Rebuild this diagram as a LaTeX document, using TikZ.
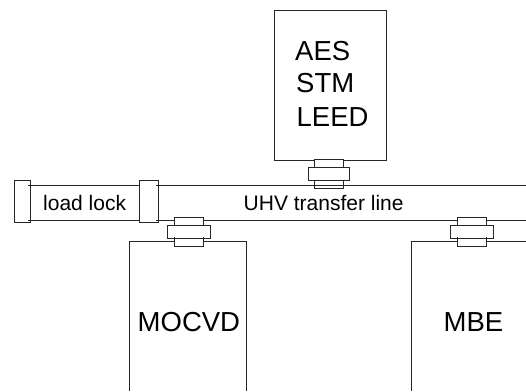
\documentclass[tikz,border=0pt]{standalone}
\usepackage{fontspec}
\setmainfont{Liberation Sans}
\tikzset{
  part/.style={draw=black!85,line width=0.8pt,fill=white},
  wall/.style={draw=black!85,line width=0.8pt},
  biglabel/.style={inner sep=0pt,font=\fontsize{27.5}{34}\selectfont},
  smalllabel/.style={inner sep=0pt,font=\fontsize{21}{25}\selectfont},
}
\newcommand{\flangeset}[3]{% centre x, centre y, wide half-width
  \draw[part] (#1-14.7,#2-14.5) rectangle (#1+14.7,#2+14.5);
  \draw[part] (#1-#3,#2-6.6) rectangle (#1+#3,#2+6.6);
}
\newcommand{\flangeticks}[2]{%
  \draw[wall] (#1-14.7,#2+6.6) -- ++(0,-2) (#1+14.7,#2+6.6) -- ++(0,-2);
}
\begin{document}
\begin{tikzpicture}[x=1pt,y=-1pt]
\useasboundingbox (0,0) rectangle (526,391);
% tube
\draw[wall] (28,185.3) -- (139.3,185.3) (156,185.3) -- (526,185.3);
\draw[wall] (28,220) -- (139.3,220) (156,220) -- (526,220);
% end flanges
\draw[wall] (14.3,180) rectangle (30.3,222.3);
\draw[wall] (139.3,180) rectangle (158,222.3);
% chambers
\draw[part] (274,10.5) rectangle (386.7,160);
\draw[wall] (129,391) -- (129,241.3) -- (246.3,241.3) -- (246.3,391);
\draw[wall] (411.7,391) -- (411.7,241.3) -- (526,241.3);
% flanges
\flangeset{329}{173.5}{20.2}
\draw[wall] (314.3,185.3) -- (343.7,185.3);
\flangeset{189}{232}{21.3}
\flangeticks{189}{232}
\flangeset{471.7}{232}{21.5}
\flangeticks{471.7}{232}
% labels
\node[biglabel,anchor=base west] (aes) at (295,60) {AES};
\node[biglabel,anchor=base west] (stm) at (296,92.5) {STM};
\node[biglabel,anchor=base west] (leed) at (296.5,126.5) {LEED};
\node[biglabel,anchor=base west] (mocvd) at (137.5,331.5) {MOCVD};
\node[biglabel,anchor=base west] (mbe) at (443.5,331.5) {MBE};
\node[smalllabel,anchor=base west] (ll) at (43,210) {load lock};
\node[smalllabel,anchor=base west] (uhv) at (243.5,210) {UHV transfer line};
\end{tikzpicture}
\end{document}
